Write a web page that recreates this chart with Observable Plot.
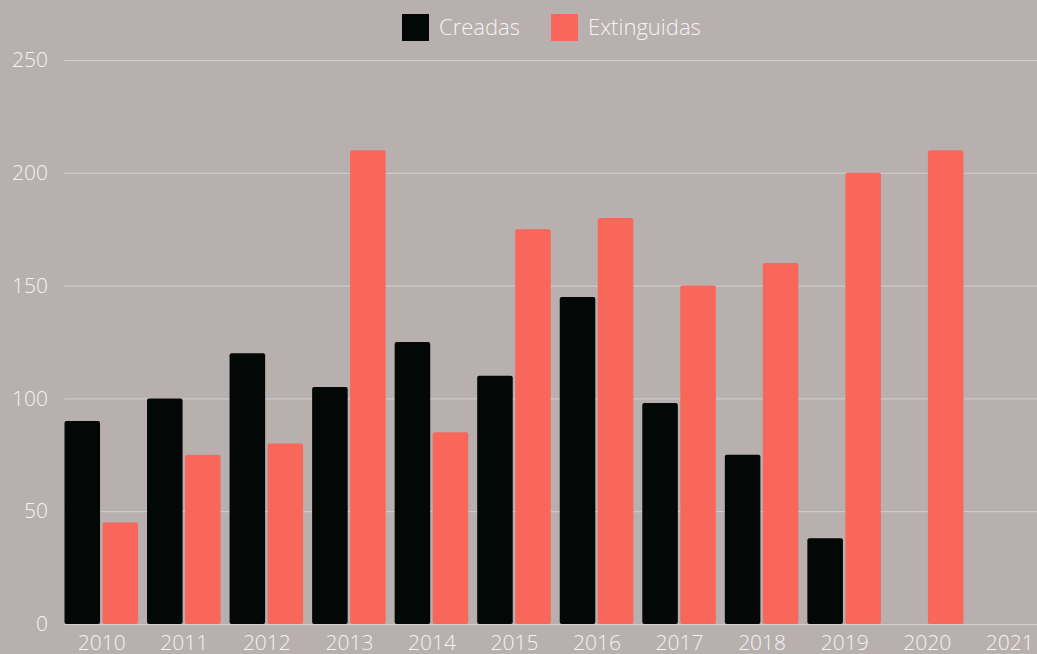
<!DOCTYPE html>
<html><head><meta charset="utf-8">
<script src="https://cdn.jsdelivr.net/npm/d3@7"></script>
<script src="https://cdn.jsdelivr.net/npm/@observablehq/plot@0.6"></script>
<style>
html,body{margin:0;padding:0;background:#b8afaf;overflow:hidden;width:1037px;height:654px}
body{font-family:"Open Sans",sans-serif;font-weight:300;color:#f5f3f3}
#legend{height:50px;position:relative}
.item{position:absolute;top:14px;height:27px;display:flex;align-items:center;font-size:22px;white-space:nowrap}
.item .lbl{position:relative;top:-2px}
.sw{width:27px;height:27px;margin-right:10px;display:inline-block}
#chart svg{display:block}
</style></head>
<body>
<div id="legend"></div>
<div id="chart"></div>
<script>
const years = ["2010","2011","2012","2013","2014","2015","2016","2017","2018","2019","2020","2021"];
const creadas = [90,100,120,105,125,110,145,98,75,38,null,null];
const extinguidas = [45,75,80,210,85,175,180,150,160,200,210,null];
const series = ["Creadas","Extinguidas"];
const colors = ["#030706","#f9665a"];
const yTicks = [0,50,100,150,200,250];

const legendPos = [402, 551];
const legend = document.getElementById("legend");
series.forEach((s,i)=>{
  const d = document.createElement("div");
  d.className = "item";
  d.style.left = legendPos[i] + "px";
  d.innerHTML = `<span class="sw" style="background:${colors[i]}"></span><span class="lbl">${s}</span>`;
  legend.appendChild(d);
});

const data = [];
years.forEach((y,i)=>{
  if (creadas[i] != null) data.push({year:y, serie:"Creadas", value:creadas[i]});
  if (extinguidas[i] != null) data.push({year:y, serie:"Extinguidas", value:extinguidas[i]});
});

const chart = Plot.plot({
  width: 1046, height: 604,
  marginLeft: 64.5, marginRight: 0, marginTop: 10, marginBottom: 30,
  style: {background:"transparent", color:"#f5f3f3", fontFamily:"'Open Sans', sans-serif", fontSize:"21px", fontWeight:300, maxWidth:"none", overflow:"visible"},
  x: {domain: years, paddingInner: 0.109, paddingOuter: 0, round: false, label: null, tickSize: 0, tickPadding: 11},
  y: {domain: [0,250], ticks: yTicks, label: null, tickSize: 0, tickPadding: 17},
  color: {domain: series, range: colors},
  marks: [
    Plot.ruleY(yTicks, {stroke:"#d3cfcf", strokeWidth:1}),
    Plot.barY(data.filter(d=>d.serie==="Creadas"), {x:"year", y:"value", fill:"serie", insetRight:38, rx:2}),
    Plot.barY(data.filter(d=>d.serie==="Extinguidas"), {x:"year", y:"value", fill:"serie", insetLeft:38, rx:2})
  ]
});
document.getElementById("chart").appendChild(chart);
</script>
</body></html>
